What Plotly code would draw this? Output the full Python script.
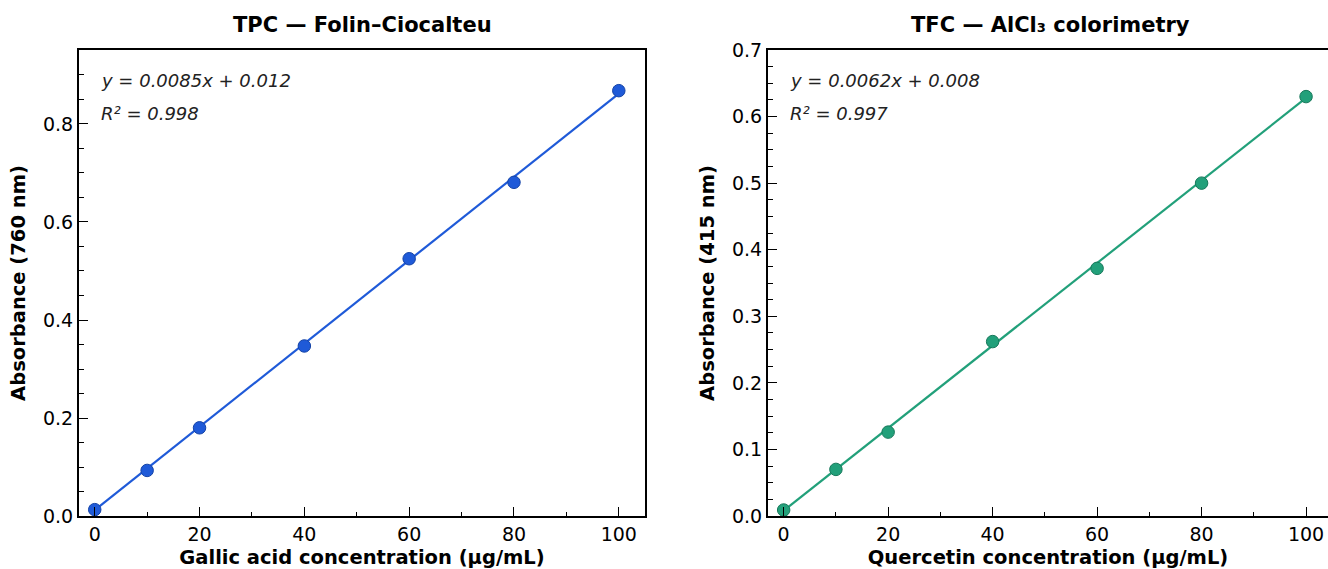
import plotly.graph_objects as go

# ---- data ----
conc = [0, 10, 20, 40, 60, 80, 100]
tpc_abs = [0.013, 0.093, 0.180, 0.347, 0.525, 0.681, 0.868]
tfc_abs = [0.009, 0.070, 0.126, 0.262, 0.372, 0.500, 0.630]

tpc_fit = (0.0085, 0.012)   # slope, intercept
tfc_fit = (0.0062, 0.008)
tpc_r2 = "0.998"
tfc_r2 = "0.997"

tpc_title = "TPC — Folin–Ciocalteu"
tfc_title = "TFC — AlCl₃ colorimetry"
tpc_xlabel = "Gallic acid concentration (μg/mL)"
tfc_xlabel = "Quercetin concentration (μg/mL)"
tpc_ylabel = "Absorbance (760 nm)"
tfc_ylabel = "Absorbance (415 nm)"

blue, blue_edge = "#1f5ad8", "#1443a6"
green, green_edge = "#22a07a", "#17785a"

W, H = 1328, 569
FONT = "DejaVu Sans"

fig = go.Figure()

fit_x = [min(conc), max(conc)]

def add(idx, ys, fit, color, edge):
    xa = "x" if idx == 1 else "x2"
    ya = "y" if idx == 1 else "y2"
    fy = [fit[0] * v + fit[1] for v in fit_x]
    fig.add_trace(go.Scatter(x=fit_x, y=fy, mode="lines", xaxis=xa, yaxis=ya,
                             line=dict(color=color, width=2.2), showlegend=False,
                             hoverinfo="skip"))
    fig.add_trace(go.Scatter(x=conc, y=ys, mode="markers", xaxis=xa, yaxis=ya,
                             marker=dict(size=12.5, color=color,
                                         line=dict(color=edge, width=1)),
                             showlegend=False))

add(1, tpc_abs, tpc_fit, blue, blue_edge)
add(2, tfc_abs, tfc_fit, green, green_edge)

py = lambda p: 1 - p / H
px = lambda p: p / W

y_dom = [py(516), py(50)]
x1_dom = [px(79), px(645)]
x2_dom = [px(768), 1.0]

tickfont = dict(family=FONT, size=19, color="black")
titlefont = dict(family=FONT, size=19.5, color="black")

common_axis = dict(showgrid=False, zeroline=False, showline=True, linecolor="black",
                   linewidth=2, ticks="inside", ticklen=9, tickwidth=1.4,
                   tickcolor="black", tickfont=tickfont, automargin=False)
minor_x = dict(dtick=10, tick0=0, ticks="inside", ticklen=4.5, tickwidth=1.2, tickcolor="black")

fig.update_layout(
    width=W, height=H,
    margin=dict(l=0, r=0, t=0, b=0, autoexpand=False),
    paper_bgcolor="white", plot_bgcolor="white",
    xaxis=dict(domain=x1_dom, anchor="y", range=[-3, 105], dtick=20, tick0=0,
               mirror=True, title=dict(text="<b>" + tpc_xlabel + "</b>", font=titlefont, standoff=8),
               minor=minor_x, **common_axis),
    yaxis=dict(domain=y_dom, anchor="x", range=[0, 0.951], dtick=0.2, tick0=0,
               tickformat=".1f", mirror=True,
               title=dict(text="<b>" + tpc_ylabel + "</b>", font=titlefont, standoff=12),
               minor=dict(dtick=0.05, tick0=0, ticks="inside", ticklen=4.5, tickwidth=1.2, tickcolor="black"),
               **common_axis),
    xaxis2=dict(domain=x2_dom, anchor="y2", range=[-3, 104.2], dtick=20, tick0=0,
                mirror=True, title=dict(text="<b>" + tfc_xlabel + "</b>", font=titlefont, standoff=8),
                minor=minor_x, **common_axis),
    yaxis2=dict(domain=y_dom, anchor="x2", range=[0, 0.7], dtick=0.1, tick0=0,
                tickformat=".1f", mirror=False,
                title=dict(text="<b>" + tfc_ylabel + "</b>", font=titlefont, standoff=12),
                minor=dict(dtick=0.025, tick0=0, ticks="inside", ticklen=4.5, tickwidth=1.2, tickcolor="black"),
                **common_axis),
)

annots = []
for title, cx in [(tpc_title, (79 + 645) / 2), (tfc_title, (768 + 1332) / 2)]:
    annots.append(dict(text="<b>" + title + "</b>", x=px(cx), y=py(25), xref="paper", yref="paper",
                       showarrow=False, xanchor="center", yanchor="middle",
                       font=dict(family=FONT, size=21, color="black")))

for xr, yr, fit, r2 in [("x domain", "y domain", tpc_fit, tpc_r2), ("x2 domain", "y2 domain", tfc_fit, tfc_r2)]:
    annots.append(dict(text=f"<i>y = {fit[0]:.4f}x + {fit[1]:.3f}</i>", x=0.035, y=(516 - 80) / 466,
                       xref=xr, yref=yr, showarrow=False, xanchor="left", yanchor="middle",
                       font=dict(family=FONT, size=18, color="#222222")))
    annots.append(dict(text=f"<i>R² = {r2}</i>", x=0.035, y=(516 - 113) / 466,
                       xref=xr, yref=yr, showarrow=False, xanchor="left", yanchor="middle",
                       font=dict(family=FONT, size=18, color="#222222")))

fig.update_layout(annotations=annots)

fig.write_html("out.html")
